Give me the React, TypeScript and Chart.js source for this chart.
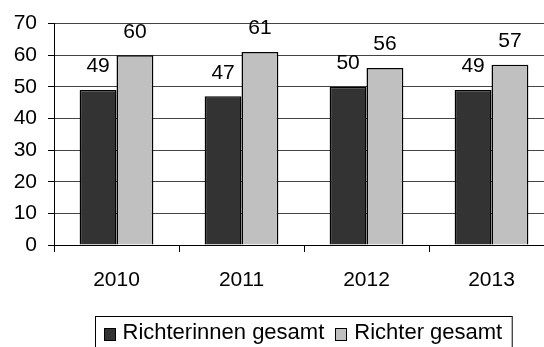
import React, { useEffect, useRef } from "react";
import { Chart, registerables } from "chart.js";

Chart.register(...registerables);

const categories = ["2010", "2011", "2012", "2013"];
const seriesNames = ["Richterinnen gesamt", "Richter gesamt"];
const richterinnen = [49, 47, 50, 49];
const richter = [60, 61, 56, 57];
const yTicks = [0, 10, 20, 30, 40, 50, 60, 70];

const FONT = "'Liberation Sans', Arial, sans-serif";
const DARK = "#333333";
const LIGHT = "#c0c0c0";

const valueLabels = {
  id: "valueLabels",
  afterDatasetsDraw(chart: any) {
    const ctx = chart.ctx;
    const yScale = chart.scales.y;
    ctx.save();
    ctx.font = `21px ${FONT}`;
    ctx.fillStyle = "#000";
    ctx.textAlign = "center";
    ctx.textBaseline = "middle";
    chart.data.datasets.forEach((ds: any, i: number) => {
      const meta = chart.getDatasetMeta(i);
      meta.data.forEach((el: any, j: number) => {
        const v = ds.data[j];
        ctx.fillText(String(v), el.x, yScale.getPixelForValue(v) - 23.5);
      });
    });
    ctx.restore();
  },
};

const boxedLegend = {
  id: "boxedLegend",
  afterDraw(chart: any) {
    const ctx = chart.ctx;
    const area = chart.chartArea;
    ctx.save();
    ctx.font = `22px ${FONT}`;
    const colors = [DARK, LIGHT];
    const sq = 12;
    const gapSqText = 7;
    const gapItems = 11;
    const padL = 8;
    const padR = 10;
    const widths = seriesNames.map((n) => ctx.measureText(n).width);
    let total = padL + padR;
    widths.forEach((w, i) => {
      total += sq + gapSqText + w + (i > 0 ? gapItems : 0);
    });
    const cx = (area.left + area.right) / 2 - 1;
    const left = Math.round(cx - total / 2) + 0.5;
    const top = 316.5;
    ctx.strokeStyle = "#000";
    ctx.lineWidth = 1;
    ctx.strokeRect(left, top, total, 45);
    let x = left + padL;
    const cy = 334;
    seriesNames.forEach((n, i) => {
      if (i > 0) x += gapItems;
      ctx.fillStyle = colors[i];
      ctx.fillRect(Math.round(x), cy - 6, sq, 13);
      ctx.strokeStyle = "#000";
      ctx.strokeRect(Math.round(x) + 0.5, cy - 6 + 0.5, sq - 1, 12);
      x += sq + gapSqText;
      ctx.fillStyle = "#000";
      ctx.textAlign = "left";
      ctx.textBaseline = "middle";
      ctx.fillText(n, x, cy - 1);
      x += widths[i];
    });
    ctx.restore();
  },
};

export default function App() {
  const ref = useRef<HTMLCanvasElement | null>(null);
  useEffect(() => {
    if (!ref.current) return;
    const chart = new Chart(ref.current, {
      type: "bar",
      data: {
        labels: categories,
        datasets: [
          {
            label: seriesNames[0],
            data: richterinnen,
            backgroundColor: DARK,
            borderColor: "#000",
            borderWidth: 1.5,
            barPercentage: 1,
            categoryPercentage: 0.59,
          },
          {
            label: seriesNames[1],
            data: richter,
            backgroundColor: LIGHT,
            borderColor: "#000",
            borderWidth: 1.5,
            barPercentage: 1,
            categoryPercentage: 0.59,
          },
        ],
      },
      options: {
        responsive: false,
        animation: false,
        layout: { padding: { top: 23, right: 2, bottom: 0, left: 0 } },
        plugins: {
          legend: { display: false },
          tooltip: { enabled: false },
        },
        scales: {
          x: {
            grid: {
              offset: true,
              drawOnChartArea: false,
              drawTicks: true,
              tickLength: 7,
              color: "#000",
            },
            border: { color: "#000", width: 1 },
            ticks: {
              color: "#000",
              font: { family: FONT, size: 21 },
              padding: 16,
              maxRotation: 0,
            },
            afterFit(scale: any) {
              scale.height = 102;
            },
          },
          y: {
            min: 0,
            max: 70,
            afterBuildTicks(scale: any) {
              scale.ticks = yTicks.map((v) => ({ value: v }));
            },
            grid: {
              color: "#444",
              tickLength: 6,
              tickColor: "#000",
            },
            border: { color: "#000", width: 1 },
            ticks: {
              color: "#000",
              font: { family: FONT, size: 21 },
              padding: 11,
            },
            afterFit(scale: any) {
              scale.width = 54;
            },
          },
        },
      },
      plugins: [valueLabels, boxedLegend],
    });
    return () => chart.destroy();
  }, []);
  return (
    <div
      style={{
        position: "fixed",
        left: 0,
        top: 0,
        width: 544,
        height: 347,
        overflow: "hidden",
        background: "#fff",
      }}
    >
      <canvas ref={ref} width={556} height={347} style={{ display: "block" }} />
    </div>
  );
}
